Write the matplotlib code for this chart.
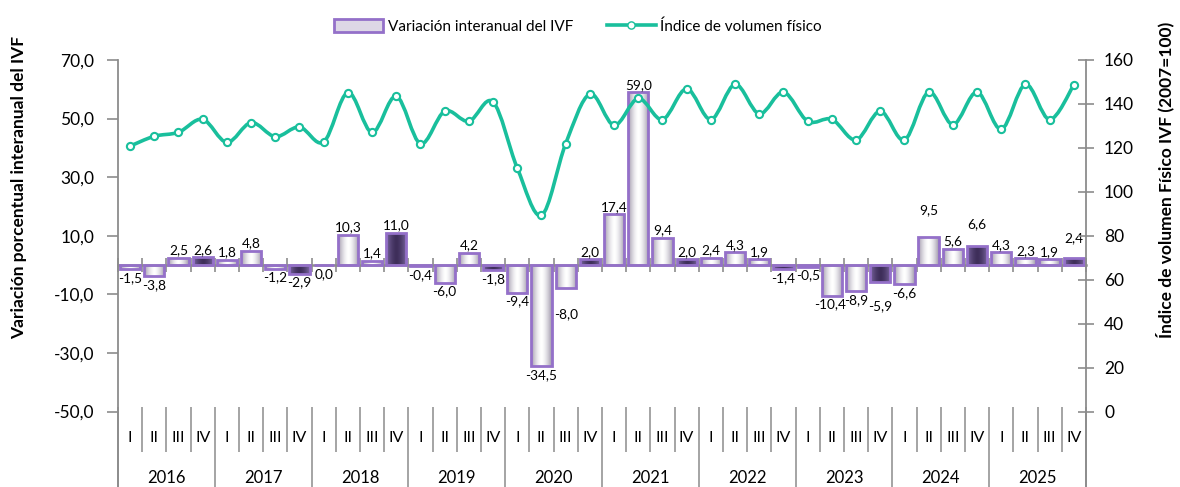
import numpy as np
import matplotlib
matplotlib.use("Agg")
import matplotlib.pyplot as plt
from matplotlib.colors import LinearSegmentedColormap
from matplotlib.path import Path
from matplotlib.patches import PathPatch, Patch
from matplotlib.lines import Line2D

plt.rcParams['font.family'] = ['Lato', 'DejaVu Sans']

years = ['2016', '2017', '2018', '2019', '2020', '2021', '2022', '2023', '2024', '2025']
quarters = ['I', 'II', 'III', 'IV'] * len(years)

# variacion interanual del IVF (%)
variacion = [-1.5, -3.8, 2.5, 2.6,
             1.8, 4.8, -1.2, -2.9,
             0.0, 10.3, 1.4, 11.0,
             -0.4, -6.0, 4.2, -1.8,
             -9.4, -34.5, -8.0, 2.0,
             17.4, 59.0, 9.4, 2.0,
             2.4, 4.3, 1.9, -1.4,
             -0.5, -10.4, -8.9, -5.9,
             -6.6, 9.5, 5.6, 6.6,
             4.3, 2.3, 1.9, 2.4]

# indice de volumen fisico (2007=100)
ivf = [120.8, 125.3, 127.1, 133.0,
       122.5, 131.5, 125.1, 129.5,
       122.7, 145.2, 127.0, 143.5,
       121.9, 136.7, 132.1, 140.9,
       110.8, 89.3, 121.9, 144.5,
       130.3, 142.5, 132.9, 146.9,
       132.9, 148.9, 135.5, 145.4,
       132.1, 133.0, 123.6, 136.7,
       123.6, 145.4, 130.6, 145.4,
       128.5, 148.9, 132.9, 148.7]

# labels moved by hand in the original (points)
label_nudge = {18: (0, -12), 29: (-1, 0), 31: (0, -11), 33: (0, 14), 35: (0, 10), 39: (0, 9)}

purple_edge = '#9470c9'
teal = '#19bf9c'
grey = '#8c8c8c'

x = np.arange(len(variacion))
dark = [q == 'IV' for q in quarters]

fig = plt.figure(figsize=(11.8, 4.87), dpi=100)
ax = fig.add_axes([0.1, 0.155, 0.8203, 0.7218])
ax2 = ax.twinx()

bars = ax.bar(x, variacion, width=0.84, facecolor='none', edgecolor=purple_edge,
              linewidth=2.0, zorder=3)

light_cmap = LinearSegmentedColormap.from_list('light', ['#9f97aa', '#ffffff'])
dark_cmap = LinearSegmentedColormap.from_list('dark', ['#7d69a3', '#3e2e5a'])
t = np.linspace(0, 1, 64)
grad = (1 - np.abs(2 * t - 1) ** 1.6)[np.newaxis, :]
for rect, d in zip(bars, dark):
    x0, y0 = rect.get_x(), rect.get_y()
    w, h = rect.get_width(), rect.get_height()
    im = ax.imshow(grad, cmap=dark_cmap if d else light_cmap,
                   extent=[x0, x0 + w, y0, y0 + h], aspect='auto',
                   interpolation='bicubic', zorder=2)
    im.set_clip_path(rect)

for i, v in enumerate(variacion):
    dx, dy = label_nudge.get(i, (0, 0))
    txt = f'{v:.1f}'.replace('.', ',')
    if v > 0:
        ax.annotate(txt, (x[i], v), xytext=(dx, 1 + dy), textcoords='offset points',
                    ha='center', va='bottom', fontsize=9.8, zorder=5)
    else:
        ax.annotate(txt, (x[i], v), xytext=(dx, -2 + dy), textcoords='offset points',
                    ha='center', va='top', fontsize=9.8, zorder=5)

ax.set_xlim(-0.5, len(x) - 0.5)
ax.set_ylim(-50, 70)
yt = np.arange(-50, 71, 20)
ax.set_yticks(yt, [f'{v:.1f}'.replace('.', ',') for v in yt])
ax.tick_params(axis='y', direction='out', length=8, width=1.2, color=grey,
               labelsize=12.5, pad=9)

# category axis at zero with boundary ticks
ax.spines['bottom'].set_position(('data', 0))
ax.spines['bottom'].set_color(grey)
ax.spines['bottom'].set_linewidth(1.8)
ax.set_xticks(np.arange(len(x) + 1) - 0.5)
ax.tick_params(axis='x', direction='inout', length=10, width=1.2, color=grey,
               labelbottom=False)
ax.spines['left'].set_color(grey)
ax.spines['left'].set_linewidth(1.3)
for s in ['top', 'right']:
    ax.spines[s].set_visible(False)

# multi-level labels below the plot
trans = ax.get_xaxis_transform()
for xi, q in zip(x, quarters):
    ax.text(xi, -0.075, q, transform=trans, ha='center', va='center', fontsize=11.5)
for k, yr in enumerate(years):
    ax.text(4 * k + 1.5, -0.19, yr, transform=trans, ha='center', va='center', fontsize=12)
bounds = np.arange(len(x) + 1) - 0.5
qsep = [b for i, b in enumerate(bounds) if i % 4 != 0]
ysep = [b for i, b in enumerate(bounds) if i % 4 == 0]
ax.vlines(qsep, -0.115, 0.012, transform=trans, colors=grey, lw=1.1, clip_on=False)
ax.vlines(ysep, -0.22, 0.012, transform=trans, colors=grey, lw=1.1, clip_on=False)
ax.vlines([bounds[0], bounds[-1]], -0.22, 0, transform=trans, colors=grey, lw=1.3,
          clip_on=False)

# smoothed IVF line
pts = np.column_stack([x, ivf]).astype(float)
verts = [pts[0]]
codes = [Path.MOVETO]
n = len(pts)
for i in range(n - 1):
    p0 = pts[max(i - 1, 0)]
    p1 = pts[i]
    p2 = pts[i + 1]
    p3 = pts[min(i + 2, n - 1)]
    verts += [p1 + (p2 - p0) / 6, p2 - (p3 - p1) / 6, p2]
    codes += [Path.CURVE4] * 3
ax2.add_patch(PathPatch(Path(verts, codes), facecolor='none', edgecolor=teal,
                        lw=2.6, capstyle='round', joinstyle='round', zorder=3))
ax2.plot(x, ivf, linestyle='none', marker='o', markersize=5.2, markerfacecolor='white',
         markeredgecolor=teal, markeredgewidth=1.5, zorder=4)
ax2.set_ylim(0, 160)
ax2.set_yticks(np.arange(0, 161, 20))
ax2.tick_params(axis='y', direction='inout', length=12, width=1.2, color=grey,
                labelsize=12.5, pad=7)
ax2.spines['right'].set_color(grey)
ax2.spines['right'].set_linewidth(1.3)
for s in ['top', 'left', 'bottom']:
    ax2.spines[s].set_visible(False)

fig.text(0.016, 0.615, 'Variación porcentual interanual del IVF', rotation=90,
         ha='center', va='center', fontsize=12.5, fontweight='bold')
fig.text(0.987, 0.63, 'Índice de volumen Físico IVF (2007=100)', rotation=90,
         ha='center', va='center', fontsize=12.5, fontweight='bold')

handles = [Patch(facecolor='#ddd7e6', edgecolor=purple_edge, linewidth=2.0),
           Line2D([], [], color=teal, lw=2.6, marker='o', markersize=5.2,
                  markerfacecolor='white', markeredgecolor=teal)]
fig.legend(handles, ['Variación interanual del IVF', 'Índice de volumen físico'],
           loc='center', bbox_to_anchor=(0.49, 0.945), ncol=2, frameon=False,
           fontsize=11, handlelength=3.2, handleheight=0.9, columnspacing=2.2,
           handletextpad=0.3)

fig.savefig('out.png', dpi=100)
